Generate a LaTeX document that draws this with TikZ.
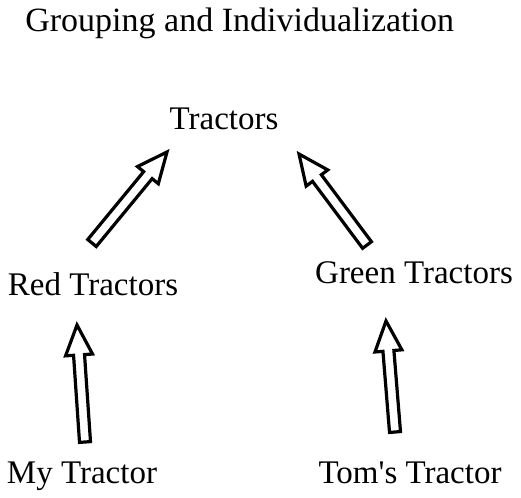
\documentclass[tikz,border=0pt]{standalone}
\usepackage{fontspec}
\setmainfont{Liberation Serif}
\newfontfamily\quotefont{Liberation Serif}[Ligatures=ResetAll]
\usetikzlibrary{calc}

\tikzset{every picture/.style={line width=0.75pt}}
\tikzset{
    lbl/.style={anchor=base, inner sep=0pt, font=\fontsize{33}{40}\selectfont},
    hollow arrow/.style={draw=black, fill=white, line width=3.2pt, line join=miter}}
\def\shaftw{5.5pt}
\def\headw{13.5pt}
\def\headl{30pt}
% block arrow from tail #1 to tip #2
\newcommand{\hollowarrow}[2]{%
    \coordinate (hb) at ($(#2)!\headl!(#1)$);
    \draw[hollow arrow] ($(#1)!\shaftw!90:(#2)$) -- ($(hb)!\shaftw!-90:(#1)$)
        -- ($(hb)!\headw!-90:(#1)$) -- (#2) -- ($(hb)!\headw!90:(#1)$)
        -- ($(hb)!\shaftw!90:(#1)$) -- ($(#1)!\shaftw!-90:(#2)$) -- cycle;
}

\begin{document}
\begin{tikzpicture}[x=1pt,y=1pt,yscale=-1,xscale=1]
            \useasboundingbox (0,0) rectangle (521,497);

            %Title
            \node (title) [lbl, anchor=base west, font=\fontsize{34}{40}\selectfont] at (25,32) {Grouping and Individualization};

            %Labels
            \node (tractors) [lbl] at (224,130) {Tractors};
            \node (red) [lbl] at (93,295) {Red Tractors};
            \node (green) [lbl] at (414,283) {Green Tractors};
            \node (my) [lbl] at (82,483) {My Tractor};
            \node (toms) [lbl] at (410,483) {Tom{\quotefont'}s Tractor};

            %Arrow ends
            \coordinate (redtail) at (92,243);
            \coordinate (redtip) at (167,152);
            \coordinate (greentail) at (367,245);
            \coordinate (greentip) at (299,154);
            \coordinate (mytail) at (85,442);
            \coordinate (mytip) at (77,325);
            \coordinate (tomstail) at (395,432);
            \coordinate (tomstip) at (386,321);

            %Arrows
            \hollowarrow{redtail}{redtip}
            \hollowarrow{greentail}{greentip}
            \hollowarrow{mytail}{mytip}
            \hollowarrow{tomstail}{tomstip}
        \end{tikzpicture}
\end{document}
